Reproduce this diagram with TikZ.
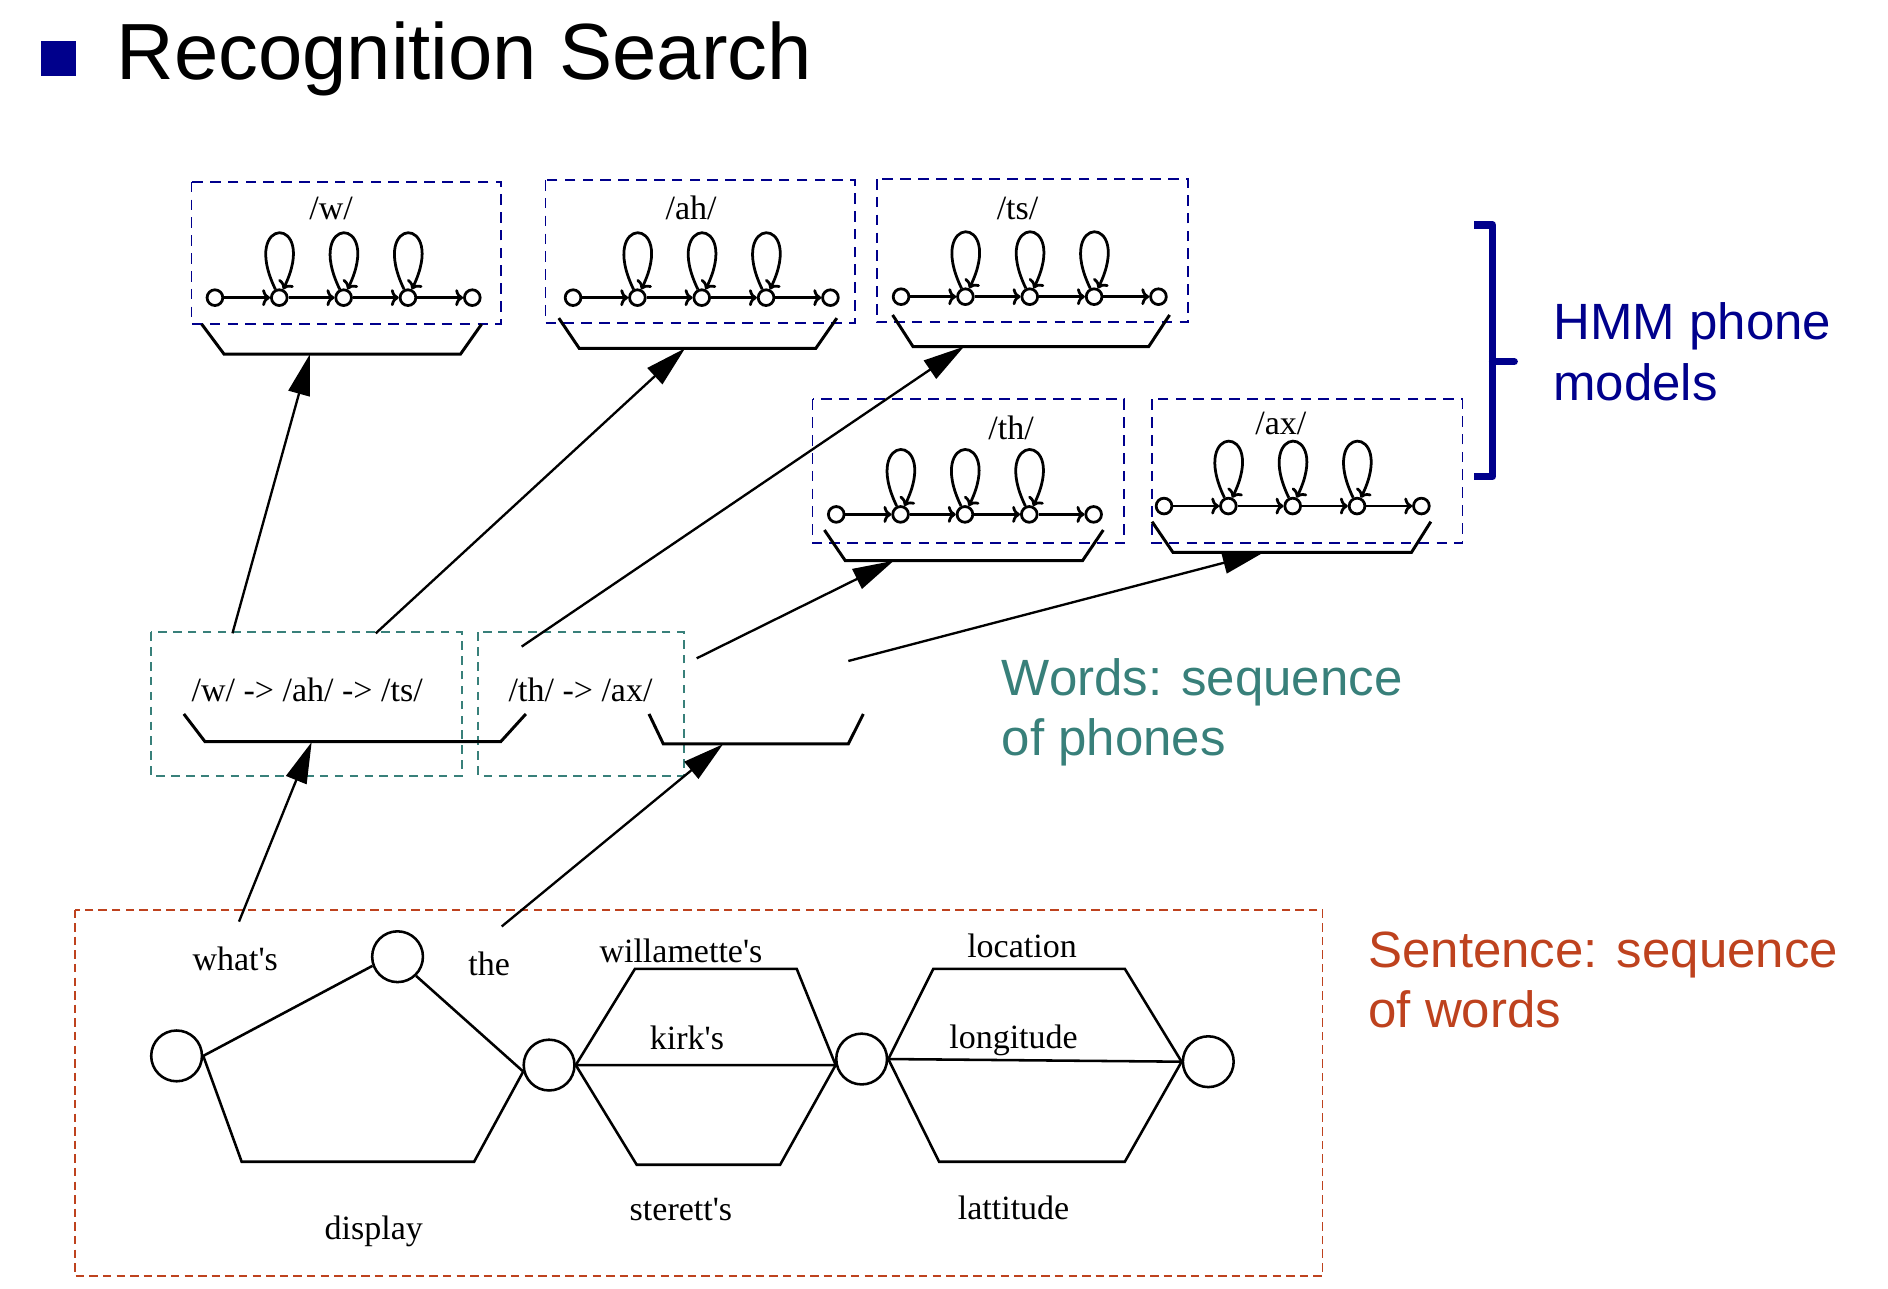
\documentclass[tikz,border=0pt]{standalone}
\usepackage{fontspec}
\setmainfont{Liberation Serif}
\setsansfont{Liberation Sans}
\usetikzlibrary{arrows.meta}
\definecolor{hmmblue}{RGB}{0,0,140}
\definecolor{wordteal}{RGB}{56,128,122}
\definecolor{sentred}{RGB}{190,66,30}
\tikzset{phonebox/.style={draw=hmmblue,line width=0.9pt,dash pattern=on 5pt off 3.4pt}}
\tikzset{wordbox/.style={draw=wordteal,line width=0.9pt,dash pattern=on 4pt off 3pt}}
\tikzset{sentbox/.style={draw=sentred,line width=0.9pt,dash pattern=on 4pt off 2.4pt}}
\tikzset{state/.style={circle,draw,line width=1.3pt,minimum size=0.26cm,inner sep=0pt}}
\tikzset{lattice/.style={circle,draw,line width=1.2pt,minimum size=0.84cm,inner sep=0pt}}
\tikzset{wordname/.style={font=\fontsize{16}{19}\selectfont,inner sep=0pt}}
\tikzset{hmmarrow/.style={line width=1.3pt,-{To[length=1.3mm,width=2.8mm]}}}
\tikzset{link/.style={line width=1.1pt,-{Triangle[length=6.8mm,width=3.6mm]}}}
\tikzset{underbar/.style={line width=1.4pt}}
\tikzset{arc/.style={line width=1.2pt}}
\tikzset{side/.style={font=\sffamily\fontsize{24}{28.5}\selectfont,align=left,anchor=north west,inner sep=0pt}}

\begin{document}
\begin{tikzpicture}[x=0.02cm,y=-0.02cm]
        \useasboundingbox (0,0) rectangle (1561,1065);
        \fill[hmmblue] (34,34) rectangle (63,63);
        \node[anchor=base west,inner sep=0pt,font=\sffamily\fontsize{37.5}{40}\selectfont] (title) at (96,66) {Recognition Search};
        \draw[phonebox] (158.3,150.2) rectangle (414.2,267.9);
        \draw[phonebox] (451,148.8) rectangle (706.9,266.8);
        \draw[phonebox] (724.8,148) rectangle (982,266.5);
        \draw[phonebox] (671.8,330.2) rectangle (929.6,449.2);
        \draw[phonebox] (952.5,330.2) rectangle (1209.2,449.2);
        \node[wordname] (wname) at (273.7,172) {/w/};
        \node[wordname] (ahname) at (571.4,172) {/ah/};
        \node[wordname] (tsname) at (841.3,172) {/ts/};
        \node[wordname] (thname) at (836,354) {/th/};
        \node[wordname] (axname) at (1059,350) {/ax/};
        \foreach \nm/\x/\y in {w/177.7/246.1,ah/473.8/246.1,ts/745/245.3,th/691.4/425.3,ax/962.4/418.4}{
            \foreach \i in {0,...,4}
                \node[state] (\nm\i) at ({\x+53.2*\i},\y) {};
            \foreach \i/\j in {0/1,1/2,2/3,3/4}
                \draw[hmmarrow] (\nm\i) -- (\nm\j);
            \foreach \i in {1,2,3}
                \draw[hmmarrow] (\nm\i.115) .. controls +(-30,-62) and +(30,-62) .. (\nm\i.65);
        }
        \draw[underbar] (166.7,267.9) -- (185.2,292.7) -- (380.8,292.7) -- (398.2,268);
        \draw[underbar] (462,263) -- (478.9,288) -- (674.5,288) -- (691.9,263);
        \draw[underbar] (738,260.4) -- (754.9,286.6) -- (949.7,286.6) -- (967,260.4);
        \draw[underbar] (681.6,438.2) -- (698.9,463.6) -- (895,463.6) -- (912.2,438.2);
        \draw[underbar] (952.5,431.3) -- (969.8,456.7) -- (1167,456.7) -- (1183,431.3);
        \coordinate (wbar) at (256.3,292.7);
        \coordinate (ahbar) at (566.4,288);
        \coordinate (tsbar) at (797,286.6);
        \coordinate (thbar) at (739,463.6);
        \coordinate (axbar) at (1044.8,456.7);
        \draw[hmmblue,line width=3.4pt,line join=round] (1219,186) -- (1234,186) -- (1234,394) -- (1219,394);
        \draw[hmmblue,line width=3.4pt,line cap=round] (1234,299) -- (1252,299);
        \node[side,text=hmmblue] (hmmtext) at (1284,250) {HMM phone\\models};
        \draw[wordbox] (124.7,522.8) rectangle (381.7,641.3);
        \draw[wordbox] (395.5,522.8) rectangle (565.5,641.3);
        \node[wordname] (whatsseq) at (254,570) {/w/ -> /ah/ -> /ts/};
        \node[wordname] (theseq) at (480,570) {/th/ -> /ax/};
        \draw[underbar] (152,590.3) -- (169.5,613.2) -- (414,613.2) -- (434.8,590.3);
        \draw[underbar] (536.6,590.3) -- (548.4,615) -- (701.4,615) -- (713.8,590.3);
        \coordinate (whatsbar) at (257.7,613.5);
        \coordinate (thebar) at (597.8,615.3);
        \coordinate (wfrom) at (192.2,523.6);
        \coordinate (ahfrom) at (310.7,523.6);
        \coordinate (tsfrom) at (431.3,534.6);
        \coordinate (thfrom) at (576,544.3);
        \coordinate (axfrom) at (701.4,546.5);
        \draw[link] (wfrom) -- (wbar);
        \draw[link] (ahfrom) -- (ahbar);
        \draw[link] (tsfrom) -- (tsbar);
        \draw[link] (thfrom) -- (thbar);
        \draw[link] (axfrom) -- (axbar);
        \node[side,text=wordteal] (wordtext) at (828,544) {Words: sequence\\of phones};
        \draw[sentbox] (62,752) rectangle (1093.4,1055);
        \node[lattice] (s1) at (146,873) {};
        \node[lattice] (s2) at (328.7,791) {};
        \node[lattice] (s3) at (454,880.6) {};
        \node[lattice] (s4) at (712.4,875.6) {};
        \node[lattice] (s5) at (999,877.8) {};
        \draw[arc] (s1.east) -- (s2.200);
        \draw[arc] (s2.-46) -- (s3.194);
        \draw[arc] (s1.east) -- (199.8,960.5) -- (392,960.5) -- (s3.194);
        \draw[arc] (s3.east) -- (525,801) -- (658.7,801) -- (s4.193);
        \draw[arc] (s3.east) -- (s4.193);
        \draw[arc] (s3.east) -- (526.4,963) -- (645,963) -- (s4.193);
        \draw[arc] (s4.east) -- (771.7,801) -- (930,801) -- (s5.west);
        \draw[arc] (s4.east) -- (s5.west);
        \draw[arc] (s4.east) -- (776.4,960.5) -- (930,960.5) -- (s5.west);
        \node[wordname] (whats) at (194.5,793) {what\textquotesingle s};
        \node[wordname] (the) at (404.5,797) {the};
        \node[wordname] (willamette) at (563,786) {willamette\textquotesingle s};
        \node[wordname] (kirk) at (568,858) {kirk\textquotesingle s};
        \node[wordname] (sterett) at (563,1000) {sterett\textquotesingle s};
        \node[wordname] (display) at (309,1018) {display};
        \node[wordname] (location) at (845,782) {location};
        \node[wordname] (longitude) at (838,860) {longitude};
        \node[wordname] (lattitude) at (838,999) {lattitude};
        \coordinate (whatsfrom) at (197.6,762);
        \coordinate (thefrom) at (414.8,766);
        \draw[link] (whatsfrom) -- (whatsbar);
        \draw[link] (thefrom) -- (thebar);
        \node[side,text=sentred] (senttext) at (1131,770) {Sentence: sequence\\of words};
    \end{tikzpicture}
\end{document}
